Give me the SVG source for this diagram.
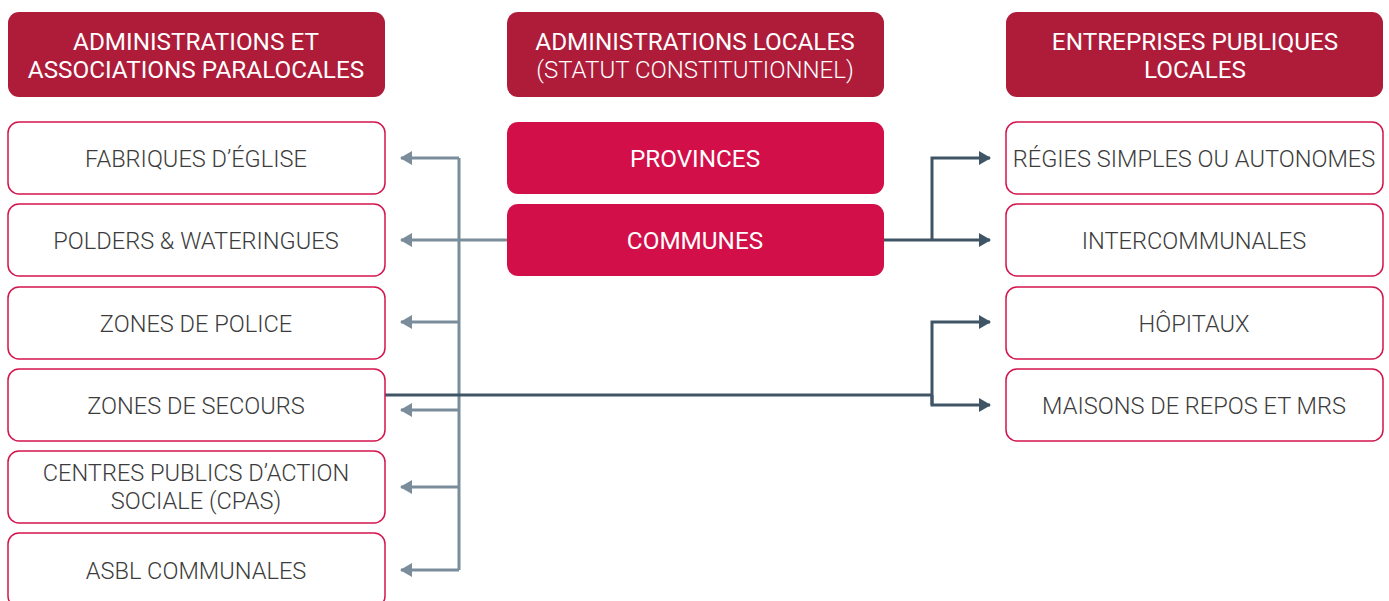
<svg xmlns="http://www.w3.org/2000/svg" width="1389" height="601" viewBox="0 0 1389 601">
<style>
.hdr{fill:#ae1c3a}
.hl{fill:#d20f48}
.box{fill:#fff;stroke:#d4144c;stroke-width:1.5}
.ht{font-family:Roboto,"Liberation Sans",sans-serif;font-size:24.3px;font-weight:400;fill:#fff;text-anchor:middle}
.hs{font-family:Roboto,"Liberation Sans",sans-serif;font-size:24px;font-weight:300;fill:#fff;text-anchor:middle}
.bt{font-family:Roboto,"Liberation Sans",sans-serif;font-size:23.6px;font-weight:300;fill:#3c3c3c;text-anchor:middle}
.g{fill:none;stroke:#7b8d9a;stroke-width:3}
.d{fill:none;stroke:#3f5566;stroke-width:3}
</style>
<defs>
<marker id="ag" viewBox="0 0 12 14" refX="11" refY="7" markerWidth="12" markerHeight="14" markerUnits="userSpaceOnUse" orient="auto"><path d="M0,0 L12,7 L0,14 Z" fill="#7b8d9a"/></marker>
<marker id="ad" viewBox="0 0 12 14" refX="11" refY="7" markerWidth="12" markerHeight="14" markerUnits="userSpaceOnUse" orient="auto"><path d="M0,0 L12,7 L0,14 Z" fill="#3f5566"/></marker>
</defs>
<g id="connectors">
<path class="g" d="M459,158 V570"/>
<path class="g" d="M459,158 H401" marker-end="url(#ag)"/>
<path class="g" d="M507,240 H401" marker-end="url(#ag)"/>
<path class="g" d="M459,322 H401" marker-end="url(#ag)"/>
<path class="g" d="M459,410 H401" marker-end="url(#ag)"/>
<path class="g" d="M459,487 H401" marker-end="url(#ag)"/>
<path class="g" d="M459,570 H401" marker-end="url(#ag)"/>
<path class="d" d="M884,240 H932"/>
<path class="d" d="M932,240 V158 H990" marker-end="url(#ad)"/>
<path class="d" d="M932,240 H990" marker-end="url(#ad)"/>
<path class="d" d="M385,395 H932"/>
<path class="d" d="M932,405 V322 H990" marker-end="url(#ad)"/>
<path class="d" d="M932,395 V405 H990" marker-end="url(#ad)"/>
</g>
<g id="h-left"><rect class="hdr" x="8" y="12" width="377" height="85" rx="11"/><text class="ht" x="196" y="50">ADMINISTRATIONS ET</text><text class="ht" x="196" y="78">ASSOCIATIONS PARALOCALES</text></g>
<g id="h-center"><rect class="hdr" x="507" y="12" width="377" height="85" rx="11"/><text class="ht" x="695" y="50">ADMINISTRATIONS LOCALES</text><text class="hs" x="695" y="78">(STATUT CONSTITUTIONNEL)</text></g>
<g id="h-right"><rect class="hdr" x="1006" y="12" width="377" height="85" rx="11"/><text class="ht" x="1195" y="50">ENTREPRISES PUBLIQUES</text><text class="ht" x="1195" y="78">LOCALES</text></g>
<g id="provinces"><rect class="hl" x="507" y="122" width="377" height="72" rx="11"/><text class="ht" x="695" y="167">PROVINCES</text></g>
<g id="communes"><rect class="hl" x="507" y="204" width="377" height="72" rx="11"/><text class="ht" x="695" y="249">COMMUNES</text></g>
<g id="fabriques"><rect class="box" x="8" y="122" width="377" height="72" rx="11"/><text class="bt" x="196" y="167">FABRIQUES D’ÉGLISE</text></g>
<g id="polders"><rect class="box" x="8" y="204" width="377" height="72" rx="11"/><text class="bt" x="196" y="249">POLDERS &amp; WATERINGUES</text></g>
<g id="police"><rect class="box" x="8" y="287" width="377" height="72" rx="11"/><text class="bt" x="196" y="332">ZONES DE POLICE</text></g>
<g id="secours"><rect class="box" x="8" y="369" width="377" height="72" rx="11"/><text class="bt" x="196" y="414">ZONES DE SECOURS</text></g>
<g id="cpas"><rect class="box" x="8" y="451" width="377" height="72" rx="11"/><text class="bt" x="196" y="481">CENTRES PUBLICS D’ACTION</text><text class="bt" x="196" y="509">SOCIALE (CPAS)</text></g>
<g id="asbl"><rect class="box" x="8" y="533" width="377" height="74" rx="11"/><text class="bt" x="196" y="579">ASBL COMMUNALES</text></g>
<g id="regies"><rect class="box" x="1006" y="122" width="377" height="72" rx="11"/><text class="bt" x="1194" y="167">RÉGIES SIMPLES OU AUTONOMES</text></g>
<g id="intercommunales"><rect class="box" x="1006" y="204" width="377" height="72" rx="11"/><text class="bt" x="1194" y="249">INTERCOMMUNALES</text></g>
<g id="hopitaux"><rect class="box" x="1006" y="287" width="377" height="72" rx="11"/><text class="bt" x="1194" y="332">HÔPITAUX</text></g>
<g id="maisons"><rect class="box" x="1006" y="369" width="377" height="72" rx="11"/><text class="bt" x="1194" y="414">MAISONS DE REPOS ET MRS</text></g>
</svg>
